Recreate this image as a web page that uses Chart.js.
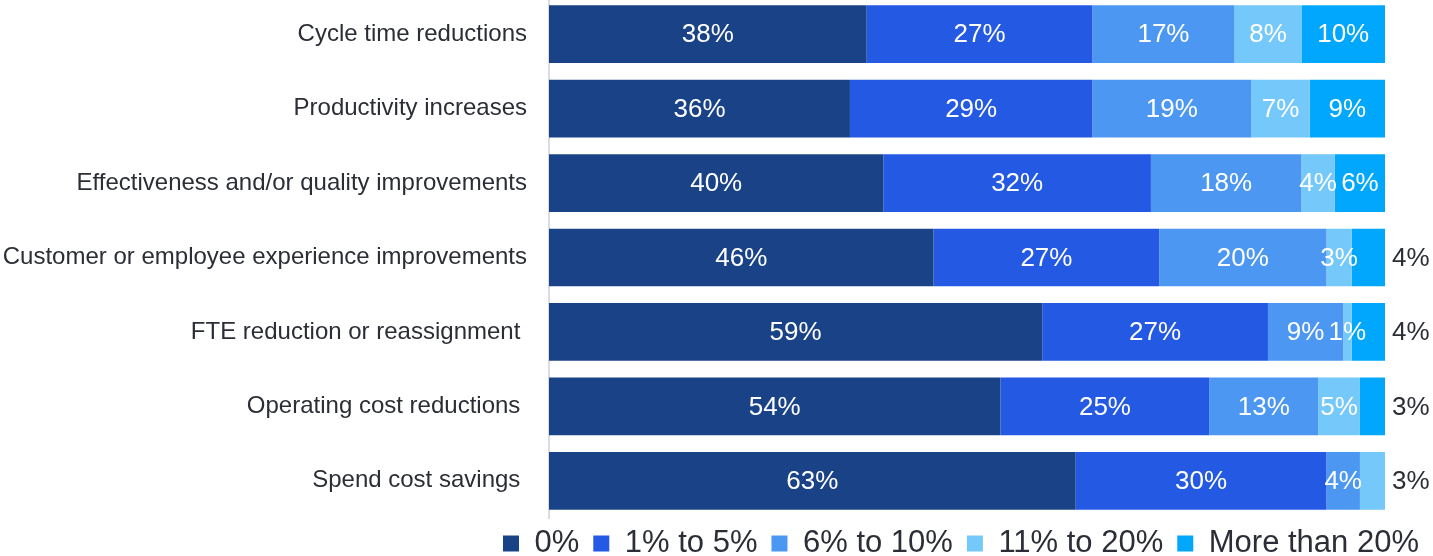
<!DOCTYPE html>
<html>
<head>
<meta charset="utf-8">
<script src="https://cdn.jsdelivr.net/npm/chart.js@4"></script>
<style>
  html, body { margin: 0; padding: 0; background: #ffffff; overflow: hidden; width: 1433px; height: 556px; }
  #wrap { position: relative; width: 1433px; height: 556px; overflow: hidden; }
  #chart { position: absolute; left: 0; top: -3px; }
</style>
</head>
<body>
<div id="wrap"><canvas id="chart" width="1433" height="576"></canvas></div>
<script>
// Benefit categories (trailing spaces kept as in the source labels)
const categories = [
  'Cycle time reductions',
  'Productivity increases',
  'Effectiveness and/or quality improvements',
  'Customer or employee experience improvements',
  'FTE reduction or reassignment ',
  'Operating cost reductions ',
  'Spend cost savings '
];

// Share of respondents per improvement band, in percent
const seriesNames = ['0%', '1% to 5%', '6% to 10%', '11% to 20%', 'More than 20%'];
const zeroPct        = [38, 36, 40, 46, 59, 54, 63];
const oneToFive      = [27, 29, 32, 27, 27, 25, 30];
const sixToTen       = [17, 19, 18, 20, 9, 13, 4];
const elevenToTwenty = [8, 7, 4, 3, 1, 5, 3];
const moreThanTwenty = [10, 9, 6, 4, 4, 3, 0];

const seriesColors = ['#1a4387', '#2459e4', '#4b97f1', '#75c8fa', '#00a7fc'];
const textDark = '#2b2e36';
const fontFamily = '"Liberation Sans", Arial, Helvetica, sans-serif';

// Percent labels: white inside each segment; a small closing segment gets its label just past the bar end
const valueLabels = {
  id: 'valueLabels',
  afterDatasetsDraw(chart) {
    const ctx = chart.ctx;
    ctx.save();
    ctx.font = '26px ' + fontFamily;
    ctx.textBaseline = 'middle';
    const n = chart.data.labels.length;
    for (let i = 0; i < n; i++) {
      let last = -1;
      chart.data.datasets.forEach((ds, d) => { if (ds.data[i] > 0) last = d; });
      chart.data.datasets.forEach((ds, d) => {
        const v = ds.data[i];
        if (!v) return;
        const bar = chart.getDatasetMeta(d).data[i];
        const text = v + '%';
        if (d === last && v <= 4) {
          ctx.fillStyle = textDark;
          ctx.textAlign = 'left';
          ctx.fillText(text, Math.max(bar.x, bar.base) + 7, bar.y + 1);
        } else {
          ctx.fillStyle = '#ffffff';
          ctx.textAlign = 'center';
          ctx.fillText(text, (bar.x + bar.base) / 2, bar.y + 1);
        }
      });
    }
    ctx.restore();
  }
};

// Pull the legend row a little closer to the bars than its label padding would place it
const legendLift = 4;
const legendNudge = {
  id: 'legendNudge',
  afterLayout(chart) {
    if (chart.legend) {
      chart.legend.top -= legendLift;
      chart.legend.bottom -= legendLift;
    }
  }
};

const seriesData = [zeroPct, oneToFive, sixToTen, elevenToTwenty, moreThanTwenty];

new Chart(document.getElementById('chart'), {
  type: 'bar',
  data: {
    labels: categories,
    datasets: seriesNames.map((name, k) => ({
      label: name,
      data: seriesData[k],
      backgroundColor: seriesColors[k],
      borderWidth: 0,
      categoryPercentage: 1,
      barPercentage: 0.775,
      clip: false
    }))
  },
  options: {
    indexAxis: 'y',
    responsive: false,
    animation: false,
    devicePixelRatio: 1,
    layout: { padding: 0 },
    scales: {
      x: {
        type: 'linear',
        stacked: true,
        min: 0,
        max: 100,
        display: false
      },
      y: {
        type: 'category',
        stacked: true,
        position: 'left',
        afterFit(scale) {
          scale.width = 549;
          // bars fill the full height; no extra room above/below for tick labels
          scale.paddingTop = 0;
          scale.paddingBottom = 0;
        },
        grid: { display: false, drawTicks: false },
        border: { display: true, color: '#d9dce4', width: 2 },
        ticks: {
          autoSkip: false,
          padding: 22,
          color: textDark,
          font: { family: fontFamily, size: 24 }
        }
      },
      rightGutter: {
        type: 'category',
        position: 'right',
        display: true,
        afterFit(scale) { scale.width = 48; },
        grid: { display: false, drawTicks: false },
        border: { display: false },
        ticks: { display: false }
      }
    },
    plugins: {
      legend: {
        position: 'bottom',
        align: 'end',
        labels: {
          boxWidth: 16,
          boxHeight: 16,
          padding: 14,
          color: textDark,
          font: { family: fontFamily, size: 31 }
        }
      },
      tooltip: { enabled: false }
    }
  },
  plugins: [valueLabels, legendNudge]
});
</script>
</body>
</html>
